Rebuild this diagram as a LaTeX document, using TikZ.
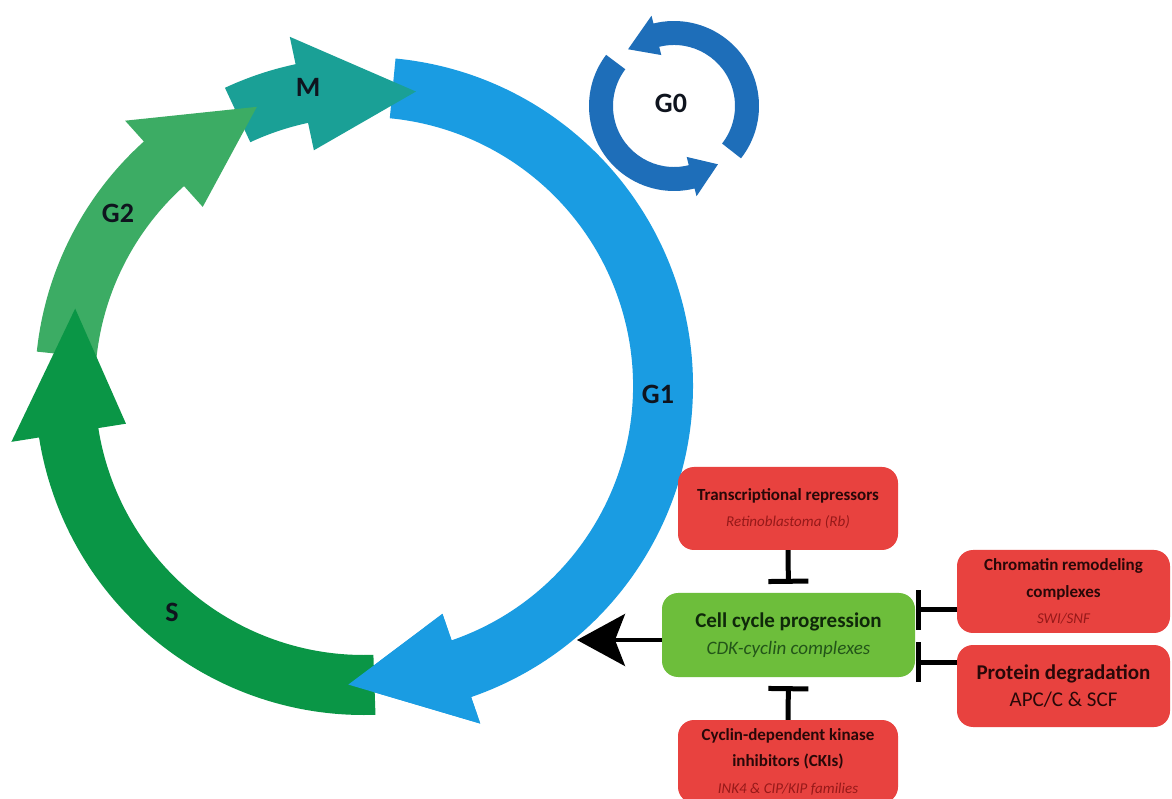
\documentclass[tikz,border=0pt]{standalone}
\usepackage{fontspec}
\setmainfont{Carlito}
\usetikzlibrary{arrows.meta}
\definecolor{cGone}{RGB}{26,156,226}
\definecolor{cM}{RGB}{26,160,150}
\definecolor{cGtwo}{RGB}{60,172,100}
\definecolor{cS}{RGB}{10,150,70}
\definecolor{cGzero}{RGB}{30,110,185}
\definecolor{cRed}{RGB}{232,66,63}
\definecolor{cGreen}{RGB}{109,190,59}
\definecolor{cRedTitle}{RGB}{40,8,8}
\definecolor{cRedSub}{RGB}{150,25,25}
\definecolor{cGreenTitle}{RGB}{15,40,10}
\definecolor{cGreenSub}{RGB}{35,85,25}
\definecolor{cLabel}{RGB}{15,20,30}
% #1 start angle, #2 head base angle, #3 tip angle, #4 outer r, #5 inner r, #6 head outer r, #7 head inner r, #8 mid r
\newcommand{\ringarrow}[8]{(#1:#4) arc[start angle=#1, end angle=#2, radius=#4] -- (#2:#6) -- (#3:#8) -- (#2:#7) -- (#2:#5) arc[start angle=#2, end angle=#1, radius=#5] -- cycle}
\tikzset{
  redbox/.style={fill=cRed, rounded corners=16pt, inner sep=0pt, align=center, text=cRedTitle, minimum height=83pt, font=\fontsize{17}{26.5}\selectfont},
  greenbox/.style={fill=cGreen, rounded corners=16pt, inner sep=0pt, align=center, text=cGreenTitle, minimum height=84pt, font=\fontsize{19}{26.5}\selectfont},
  phaselabel/.style={font=\fontsize{28}{30}\selectfont\bfseries, text=cLabel, inner sep=0pt},
  inhib/.style={line width=5pt, -{Bar[width=40pt]}},
  progarrow/.style={line width=4pt, -{Stealth[length=48pt,width=52pt,inset=10pt]}}
}
\begin{document}
\begin{tikzpicture}[x=1pt,y=1pt]
\useasboundingbox (0,0) rectangle (1172,798);
\clip (0,0) rectangle (1172,798);
\fill[white] (0,0) rectangle (1172,798);
% G0 ring
\begin{scope}[shift={(674,692)}]
\fill[cGzero] \ringarrow{143}{284}{307}{85}{61}{93}{52.5}{73};
\fill[cGzero] \ringarrow{322}{464}{489}{85}{61}{93}{52.5}{73};
\end{scope}
% big cycle
\begin{scope}[shift={(364,412)}]
\fill[cGone] \ringarrow{84.5}{-71}{-93}{329}{269}{357}{241}{299};
\fill[cM] \ringarrow{115}{102}{80}{329}{269}{357}{241}{299};
\fill[cGtwo] \ringarrow{174}{132}{111}{329}{269}{357}{241}{299};
\fill[cS] \ringarrow{272}{189}{165}{329}{269}{357}{241}{299};
\fill[cGone] (-71:357) -- (-93:299) -- (-71:241) -- cycle;
\end{scope}
% phase labels
\node[phaselabel] (lGone) at (658,404) {G1};
\node[phaselabel] (lS) at (172,186) {S};
\node[phaselabel] (lGtwo) at (118,585) {G2};
\node[phaselabel] (lM) at (308,711) {M};
\node[phaselabel] (lGzero) at (671,695) {G0};
% boxes
\node[greenbox, minimum width=253pt] (green) at (788.5,163) {%
  {\fontsize{21}{26}\selectfont\bfseries Cell cycle progression}\\
  {\fontsize{19}{26}\selectfont\itshape\color{cGreenSub}CDK-cyclin complexes}};
\node[redbox, minimum width=220pt] (trans) at (788,289.5) {%
  {\fontsize{17}{26}\selectfont\bfseries Transcriptional repressors}\\
  {\fontsize{15}{26}\selectfont\itshape\color{cRedSub}Retinoblastoma (Rb)}};
\node[redbox, minimum width=213pt] (chrom) at (1063.5,206.5) {%
  {\fontsize{17}{26}\selectfont\bfseries Chromatin remodeling}\\
  {\fontsize{17}{26}\selectfont\bfseries complexes}\\
  {\fontsize{15}{26}\selectfont\itshape\color{cRedSub}SWI/SNF}};
\node[redbox, minimum width=213pt, minimum height=82pt, font=\fontsize{21}{26.5}\selectfont] (prot) at (1063.5,112) {%
  {\fontsize{21}{26}\selectfont\bfseries Protein degradation}\\
  {\fontsize{21}{26}\selectfont APC/C \& SCF}};
\node[redbox, minimum width=220pt] (cki) at (788,36.5) {%
  {\fontsize{17}{26}\selectfont\bfseries Cyclin-dependent kinase}\\
  {\fontsize{17}{26}\selectfont\bfseries inhibitors (CKIs)}\\
  {\fontsize{15}{26}\selectfont\itshape\color{cRedSub}INK4 \& CIP/KIP families}};
% connectors
\coordinate (ychrom) at (0,188);
\coordinate (yprot) at (0,136);
\coordinate (cyctip) at (577,158);
\draw[inhib, shorten >=9pt] (trans.south) -- (green.north);
\draw[inhib, shorten >=9pt] (cki.north) -- (green.south);
\draw[inhib, shorten >=1pt] (chrom.west |- ychrom) -- (green.east |- ychrom);
\draw[inhib, shorten >=1pt] (prot.west |- yprot) -- (green.east |- yprot);
\draw[progarrow] (green.west |- cyctip) -- (cyctip);
\end{tikzpicture}
\end{document}
